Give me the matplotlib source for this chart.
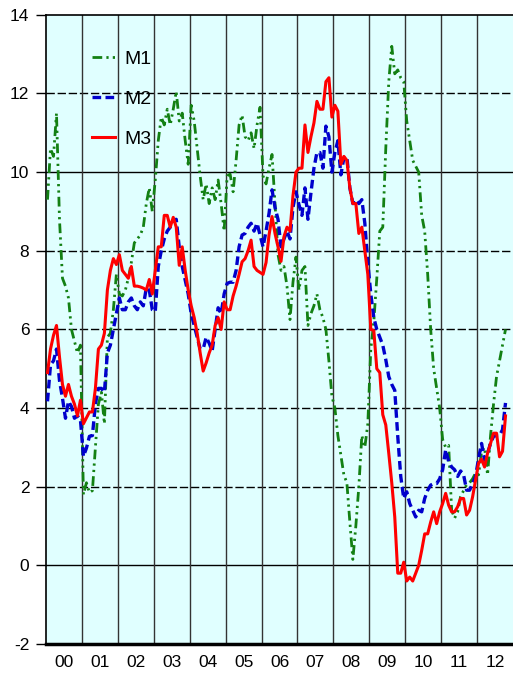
import numpy as np
import matplotlib
matplotlib.use("Agg")
import matplotlib.pyplot as plt

plt.rcParams['font.family'] = ['Liberation Sans', 'DejaVu Sans']
plt.rcParams['axes.unicode_minus'] = False

# monthly series, Jan 2000 - Oct 2012
m1 = [9.3, 10.6, 10.4, 11.5, 8.8, 7.3, 7.1, 6.8, 6.0, 5.7, 5.4, 5.6,
      1.8, 2.1, 1.85, 1.9, 3.0, 4.1, 4.4, 3.6, 5.8, 5.9, 6.5, 7.4,
      6.9, 6.85, 7.0, 7.3, 7.7, 8.2, 8.3, 8.4, 8.6, 9.2, 9.6, 9.0,
      9.8, 10.8, 11.4, 11.2, 11.6, 11.2, 11.6, 12.05, 11.3, 11.5, 10.8, 10.2,
      11.7, 11.3, 10.6, 9.9, 9.3, 9.7, 9.2, 9.6, 9.3, 9.8, 9.2, 8.5,
      9.9, 9.95, 9.5, 10.3, 11.2, 11.45, 10.9, 10.8, 11.0, 10.6, 11.2, 11.65,
      9.9, 9.7, 10.1, 10.45, 9.2, 7.9, 7.5, 7.6, 7.1, 6.25, 7.2, 7.84,
      7.0, 7.5, 7.6, 6.1, 6.4, 6.6, 6.9, 6.5, 6.3, 6.0, 5.2, 4.3,
      4.0, 3.3, 2.8, 2.3, 2.1, 1.1, 0.15, 1.0, 2.0, 3.3, 3.0, 3.6,
      5.5, 6.2, 7.3, 8.5, 8.6, 10.6, 12.3, 13.2, 12.5, 12.6, 12.4, 12.3,
      11.3, 10.8, 10.3, 10.15, 10.0, 8.9, 8.5, 7.4, 6.0, 5.0, 4.5, 4.0,
      3.2, 3.0, 3.05, 1.4, 1.2, 1.36, 1.75, 1.9, 2.05, 2.1, 2.2, 2.35,
      2.3, 2.9, 3.0, 2.3, 3.3, 4.1, 4.8, 5.2, 5.6, 6.0]

m2 = [4.17, 5.1, 5.2, 5.5, 4.7, 4.25, 3.74, 4.17, 4.04, 3.74, 3.8, 3.7,
      2.77, 2.98, 3.28, 3.3, 4.1, 4.5, 4.5, 4.4, 5.4, 5.6, 6.0, 6.4,
      6.8, 6.5, 6.5, 6.7, 6.8, 6.6, 6.5, 6.7, 6.6, 7.05, 7.0, 6.5,
      6.45, 7.6, 8.0, 8.3, 8.5, 8.6, 8.78, 8.8, 8.1, 7.6, 7.25, 6.9,
      6.4, 6.1, 5.8, 5.5, 5.5, 5.8, 5.65, 5.45, 6.0, 6.55, 6.4, 6.9,
      7.17, 7.2, 7.2, 7.5, 8.1, 8.4, 8.44, 8.6, 8.7, 8.5, 8.7, 8.4,
      8.1, 8.5, 8.95, 9.55, 9.1, 8.8, 8.1, 8.3, 8.5, 8.3, 9.1, 9.5,
      9.17, 8.9, 9.6, 8.8, 9.47, 10.1, 10.5, 10.5, 10.1, 11.17, 10.9, 10.0,
      10.5, 10.8, 9.93, 10.36, 10.4, 9.6, 9.2, 9.3, 9.2, 9.3, 8.7, 7.7,
      6.9, 6.3, 6.0, 5.8, 5.6, 5.23, 4.8, 4.6, 4.45, 3.28, 2.26, 1.7,
      1.87, 1.57, 1.4, 1.23, 1.4, 1.36, 1.7, 1.91, 2.04, 2.08, 2.08, 2.2,
      2.43, 2.94, 2.64, 2.5, 2.43, 2.26, 2.4, 2.3, 1.91, 1.91, 2.08, 2.26,
      2.72, 3.1, 2.68, 2.85, 3.1, 3.28, 3.3, 3.3, 3.45, 4.13]

m3 = [4.9, 5.5, 5.85, 6.1, 5.3, 4.6, 4.3, 4.6, 4.3, 4.1, 3.8, 4.2,
      3.6, 3.75, 3.9, 3.9, 4.5, 5.5, 5.6, 5.9, 7.0, 7.5, 7.8, 7.65,
      7.9, 7.5, 7.4, 7.3, 7.6, 7.1, 7.1, 7.08, 7.05, 7.0, 7.27, 6.9,
      7.5, 8.1, 8.1, 8.9, 8.9, 8.6, 8.85, 8.6, 7.63, 8.1, 7.5, 7.0,
      6.6, 6.3, 5.9, 5.4, 4.94, 5.15, 5.4, 5.6, 6.1, 6.3, 6.0, 6.7,
      6.5, 6.5, 6.85, 7.1, 7.4, 7.72, 7.8, 8.0, 8.27, 7.6, 7.5, 7.45,
      7.4, 7.7, 8.4, 8.87, 8.44, 8.1, 7.73, 8.36, 8.6, 8.5, 9.4, 10.0,
      10.1, 10.1, 11.2, 10.5, 10.9, 11.25, 11.8, 11.6, 11.6, 12.3, 12.4, 11.4,
      11.7, 11.55, 10.2, 10.4, 10.3, 9.6, 9.2, 9.2, 8.44, 8.6, 8.0, 7.4,
      6.0, 5.97, 5.0, 4.9, 3.83, 3.57, 2.85, 2.1, 1.23, -0.2, -0.2, 0.08,
      -0.4, -0.3, -0.4, -0.2, 0.0, 0.38, 0.8, 0.8, 1.1, 1.36, 1.06, 1.36,
      1.57, 1.83, 1.53, 1.36, 1.36, 1.49, 1.7, 1.7, 1.28, 1.4, 1.74, 2.17,
      2.6, 2.7, 2.5, 2.85, 3.1, 3.36, 3.36, 2.76, 2.9, 3.8]

years = list(range(2000, 2013))
year_labels = ['00', '01', '02', '03', '04', '05', '06', '07', '08', '09', '10', '11', '12']

x = 2000 + (np.arange(len(m1)) + 0.5) / 12.0

fig = plt.figure(figsize=(5.13, 6.75), dpi=100)
ax = fig.add_axes([0.0897, 0.046, 0.9103, 0.932])
ax.set_facecolor('#E0FFFF')

ax.set_xlim(2000, 2013)
ax.set_ylim(-2, 14)

# grid
for yv in range(0, 14, 2):
    if yv in (0, 10):
        ax.axhline(yv, color='black', lw=1.0, zorder=1)
    else:
        ax.axhline(yv, color='black', lw=1.0, ls=(0, (6, 2)), zorder=1)
for yr in years[1:]:
    ax.axvline(yr, color='#333333', lw=1.0, zorder=1)

l1, = ax.plot(x, m1, color='#138013', lw=2.0, dashes=[3.5, 1.5, 0.8, 1.5, 0.8, 1.5],
              label='M1', zorder=3)
l2, = ax.plot(x, m2, color='#0000CC', lw=2.4, dashes=[2.6, 1.3], label='M2', zorder=4)
l3, = ax.plot(x, m3, color='#FF0000', lw=2.2, label='M3', zorder=5)

ax.set_yticks(range(-2, 15, 2))
ax.tick_params(axis='y', direction='out', length=7, width=1, pad=5, labelsize=12.5)
ax.set_xticks(years, minor=False)
ax.set_xticklabels([])
ax.set_xticks([y + 0.5 for y in years], minor=True)
ax.set_xticklabels(year_labels, minor=True, fontsize=12.5)
ax.tick_params(axis='x', which='both', length=0, pad=8)

for s in ['left', 'top']:
    ax.spines[s].set_color('black')
    ax.spines[s].set_linewidth(1.2)
ax.spines['bottom'].set_linewidth(2.5)
ax.spines['right'].set_visible(False)

ax.legend(handles=[l1, l2, l3], loc='upper left', bbox_to_anchor=(0.06, 0.972),
          frameon=False, fontsize=14, handlelength=1.2, labelspacing=1.15,
          handletextpad=0.5)

fig.savefig('out.png', dpi=100)
